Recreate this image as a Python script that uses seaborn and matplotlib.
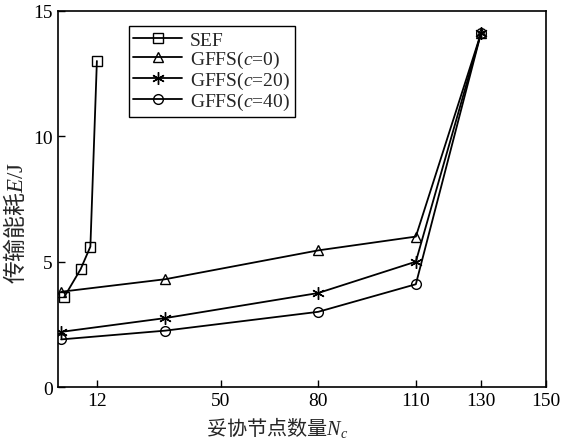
import matplotlib
matplotlib.use("Agg")
import matplotlib.pyplot as plt
import seaborn as sns
import pandas as pd

sns.set_theme(style="white")
plt.rcParams['font.family'] = ['Liberation Serif', 'Noto Sans CJK SC']
plt.rcParams['mathtext.fontset'] = 'custom'
plt.rcParams['mathtext.rm'] = 'Liberation Serif'
plt.rcParams['mathtext.it'] = 'Liberation Serif:italic'

sef_x = [2, 7, 10, 12]
sef_y = [3.6, 4.7, 5.6, 13.0]
c0_x = [1, 33, 80, 110, 130]
c0_y = [3.8, 4.3, 5.45, 6.0, 14.1]
c20_x = [1, 33, 80, 110, 130]
c20_y = [2.2, 2.75, 3.75, 5.0, 14.1]
c40_x = [1, 33, 80, 110, 130]
c40_y = [1.9, 2.25, 3.0, 4.1, 14.1]
labels = ['SEF', 'GFFS($c$=0)', 'GFFS($c$=20)', 'GFFS($c$=40)']
xticks = [12, 50, 80, 110, 130, 150]
yticks = [0, 5, 10, 15]

fig = plt.figure(figsize=(5.67, 4.39), dpi=100)
ax = fig.add_axes([0.102, 0.116, 0.861, 0.857])

series = [(sef_x, sef_y, 's'), (c0_x, c0_y, '^'), (c20_x, c20_y, (6, 2, 0)), (c40_x, c40_y, 'o')]
for (xs, ys, m), lab in zip(series, labels):
    sns.lineplot(x=xs, y=ys, ax=ax, color='black', linewidth=1.3, marker=m,
                 markersize=7 if m != (6, 2, 0) else 9,
                 markerfacecolor='none', markeredgecolor='black', markeredgewidth=1.0,
                 label=lab, sort=False)

ax.set_xlim(0, 150)
ax.set_ylim(0, 15)
ax.set_xticks(xticks)
ax.set_yticks(yticks)
ax.tick_params(direction='in', length=5, width=1, colors='black', labelsize=14,
               bottom=True, left=True, top=False, right=False)
for s in ax.spines.values():
    s.set_color('black')
    s.set_linewidth(1.2)
ax.grid(False)
ax.set_xlabel('妥协节点数量$N_c$', fontsize=14.5, family='Noto Sans CJK SC')
ax.set_ylabel(r'传输能耗$E\mathrm{/J}$', fontsize=16.5, family='Noto Sans CJK SC')
ax.xaxis.set_label_coords(0.45, -0.072)
ax.yaxis.set_label_coords(-0.062, 0.44)

leg = ax.legend(loc='upper left', bbox_to_anchor=(0.125, 0.985), fontsize=14,
                frameon=True, fancybox=False, edgecolor='black', framealpha=1,
                handlelength=2.5, borderpad=0.25, labelspacing=0.0, handletextpad=0.4)
leg.get_frame().set_linewidth(1.0)

fig.savefig('out.png', dpi=100)
